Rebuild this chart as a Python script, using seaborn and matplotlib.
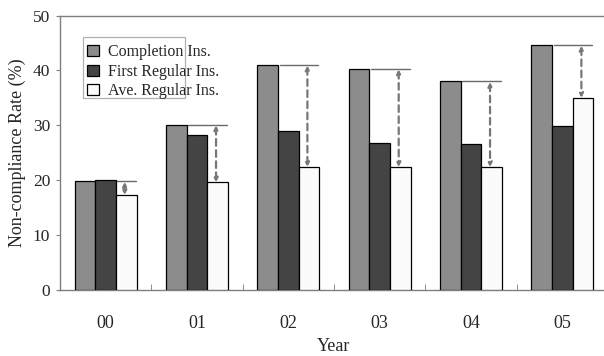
import matplotlib
matplotlib.use('Agg')
import matplotlib.pyplot as plt
from matplotlib.patches import Rectangle
import pandas as pd
import seaborn as sns

years = ['00', '01', '02', '03', '04', '05']
series = ['Completion Ins.', 'First Regular Ins.', 'Ave. Regular Ins.']
completion = [19.8, 30.1, 41.0, 40.3, 38.0, 44.6]
first_regular = [20.0, 28.3, 28.9, 26.8, 26.6, 29.9]
ave_regular = [17.3, 19.6, 22.4, 22.4, 22.4, 35.0]
colors = ['#8c8c8c', '#444444', '#fbfbfb']

df = pd.DataFrame({
    'Year': years * 3,
    'Series': [s for s in series for _ in years],
    'Rate': completion + first_regular + ave_regular,
})

sns.set_style('white')
plt.rcParams['font.family'] = ['Liberation Serif', 'DejaVu Serif']

fig = plt.figure(figsize=(6.04, 3.56), dpi=100)
ax = fig.add_axes([60 / 604, 66 / 356, 548 / 604, 274.5 / 356])

sns.barplot(data=df, x='Year', y='Rate', hue='Series', hue_order=series,
            order=years, palette=colors, width=0.68, gap=0,
            edgecolor='black', linewidth=0.9, saturation=1, ax=ax,
            legend=True, zorder=3)

# reference line from completion level and dashed double arrow to average
for comp, ave in zip(ax.containers[0], ax.containers[2]):
    top = comp.get_height()
    x0 = comp.get_x() + comp.get_width() + 0.02
    x1 = ave.get_x() + ave.get_width() * 0.95
    ax.plot([x0, x1], [top, top], color='#6a6a6a', lw=1.0, zorder=2)
    xa = ave.get_x() + ave.get_width() * 0.42
    ax.annotate('', xy=(xa, ave.get_height()), xytext=(xa, top),
                arrowprops=dict(arrowstyle='<|-|>', color='#777777', lw=1.6,
                                linestyle=(0, (3, 2)), mutation_scale=6,
                                shrinkA=0.5, shrinkB=0),
                zorder=4)

ax.set_ylim(0, 50)
ax.set_xlim(-0.5, 5.5)
ax.set_yticks([0, 10, 20, 30, 40, 50])
ax.set_xticks([i + 0.5 for i in range(5)], minor=True)
ax.tick_params(axis='x', which='minor', direction='in', length=4,
               color='#7f7f7f', bottom=True)
ax.tick_params(axis='x', which='major', length=0, pad=18, labelsize=13)
ax.tick_params(axis='y', which='major', direction='out', length=3,
               color='#7f7f7f', left=True, pad=4, labelsize=12.5)

for side in ['left', 'bottom', 'top']:
    ax.spines[side].set_color('#7f7f7f')
    ax.spines[side].set_linewidth(1.0)
ax.spines['right'].set_visible(False)

ax.set_xlabel('Year', fontsize=13, labelpad=4)
ax.set_ylabel('Non-compliance Rate (%)', fontsize=13, labelpad=5)

leg = ax.legend(loc='upper left', bbox_to_anchor=(0.05, 0.895), fontsize=11.5,
                frameon=False, handlelength=0.7,
                handleheight=0.7, handletextpad=0.6, labelspacing=0.22,
                borderpad=0, borderaxespad=0)
# narrow legend box as drawn in the original
ax.add_patch(Rectangle((23 / 548, (290 - 98) / 274.5), 102 / 548, 61 / 274.5,
                       transform=ax.transAxes, fill=False,
                       edgecolor='#b0b0b0', lw=0.9, zorder=5))

fig.savefig('out.png', dpi=100)
